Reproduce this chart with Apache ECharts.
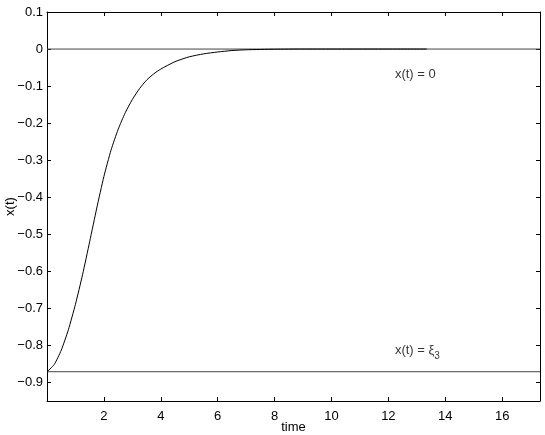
<!DOCTYPE html>
<html>
<head>
<meta charset="utf-8">
<script src="https://cdn.jsdelivr.net/npm/echarts@6/dist/echarts.min.js"></script>
<style>
  html, body { margin: 0; padding: 0; background: #fff; }
  #chart { width: 545px; height: 435px; }
</style>
</head>
<body>
<div id="chart"></div>
<script>
// time samples and x(t)
const time = [0, 0.25, 0.5, 0.75, 1.0, 1.25, 1.5, 1.75, 2.0, 2.25, 2.5, 2.75, 3.0, 3.25, 3.5, 3.75,
  4.0, 4.5, 5.0, 5.5, 6.0, 6.5, 7.0, 8.0, 9.0, 10.0, 11.0, 12.0, 13.35];
const xValues = [-0.871, -0.852, -0.813, -0.758, -0.689, -0.609, -0.520, -0.429, -0.344, -0.273,
  -0.217, -0.172, -0.136, -0.107, -0.084, -0.067, -0.054, -0.034, -0.021, -0.013, -0.008,
  -0.004, -0.002, -0.0005, 0, 0, 0, 0, 0];

const xi3 = -0.871;          // lower equilibrium x(t) = xi_3
const zeroLevel = 0;
const xRange = [0, 17.33];
const yRange = [-0.95, 0.1];
const xTicks = [2, 4, 6, 8, 10, 12, 14, 16];
const yTicks = [0.1, 0, -0.1, -0.2, -0.3, -0.4, -0.5, -0.6, -0.7, -0.8, -0.9];

// annotation anchors (data units)
const labelZeroAt = [12.23, -0.071];
const labelXiAt = [12.23, -0.817];

const FONT = "'Liberation Sans', Arial, Helvetica, sans-serif";

const chart = echarts.init(document.getElementById('chart'));

const fmt = v => {
  const s = String(Math.round(v * 100) / 100);
  return s.replace('-', '\u2212');
};

const boxAxis = (pos, isX, withLabels) => ({
  type: 'value',
  position: pos,
  min: isX ? xRange[0] : yRange[0],
  max: isX ? xRange[1] : yRange[1],
  axisLine: { show: true, onZero: false, lineStyle: { color: '#000', width: 1 } },
  axisTick: {
    show: true, inside: true, length: 4,
    customValues: isX ? xTicks : yTicks,
    lineStyle: { color: '#000', width: 1 }
  },
  axisLabel: {
    show: withLabels,
    customValues: isX ? xTicks : yTicks,
    formatter: fmt,
    color: '#000',
    fontSize: 13,
    fontFamily: FONT,
    margin: isX ? 9 : 4
  },
  splitLine: { show: false }
});

const xBottom = Object.assign(boxAxis('bottom', true, true), {
  name: 'time', nameLocation: 'middle', nameGap: 20, nameMoveOverlap: false,
  nameTextStyle: { color: '#000', fontSize: 13, fontFamily: FONT }
});
const yLeft = Object.assign(boxAxis('left', false, true), {
  name: 'x(t)', nameLocation: 'middle', nameGap: 30, nameMoveOverlap: false,
  nameTextStyle: { color: '#000', fontSize: 13, fontFamily: FONT }
});

const option = {
  animation: false,
  backgroundColor: '#fff',
  textStyle: { fontFamily: FONT },
  grid: { left: 47, right: 5, top: 12, bottom: 34, containLabel: false, outerBoundsMode: 'none' },
  xAxis: [xBottom, boxAxis('top', true, false)],
  yAxis: [yLeft, boxAxis('right', false, false)],
  series: [
    {
      name: 'zero',
      type: 'line',
      data: [[xRange[0], zeroLevel], [xRange[1], zeroLevel]],
      symbol: 'none',
      lineStyle: { color: '#444', width: 1 }
    },
    {
      name: 'xi3',
      type: 'line',
      data: [[xRange[0], xi3], [xRange[1], xi3]],
      symbol: 'none',
      lineStyle: { color: '#444', width: 1 }
    },
    {
      name: 'x(t)',
      type: 'line',
      data: time.map((t, i) => [t, xValues[i]]),
      symbol: 'none',
      smooth: 0.2,
      lineStyle: { color: '#000', width: 1 }
    },
    {
      name: 'labels',
      type: 'scatter',
      symbolSize: 0,
      silent: true,
      data: [
        { value: labelZeroAt, text: '{m|x(t) = 0}' },
        { value: labelXiAt, text: '{m|x(t) = \u03be}{s|3}' }
      ],
      label: {
        show: true,
        position: 'right',
        distance: 0,
        formatter: p => p.data.text,
        rich: {
          m: { color: '#000', fontSize: 13, fontFamily: FONT, verticalAlign: 'top', lineHeight: 15 },
          s: { color: '#000', fontSize: 10, fontFamily: FONT, verticalAlign: 'top', padding: [7, 0, 0, 0], lineHeight: 12 }
        }
      }
    }
  ]
};

chart.setOption(option);
</script>
</body>
</html>
